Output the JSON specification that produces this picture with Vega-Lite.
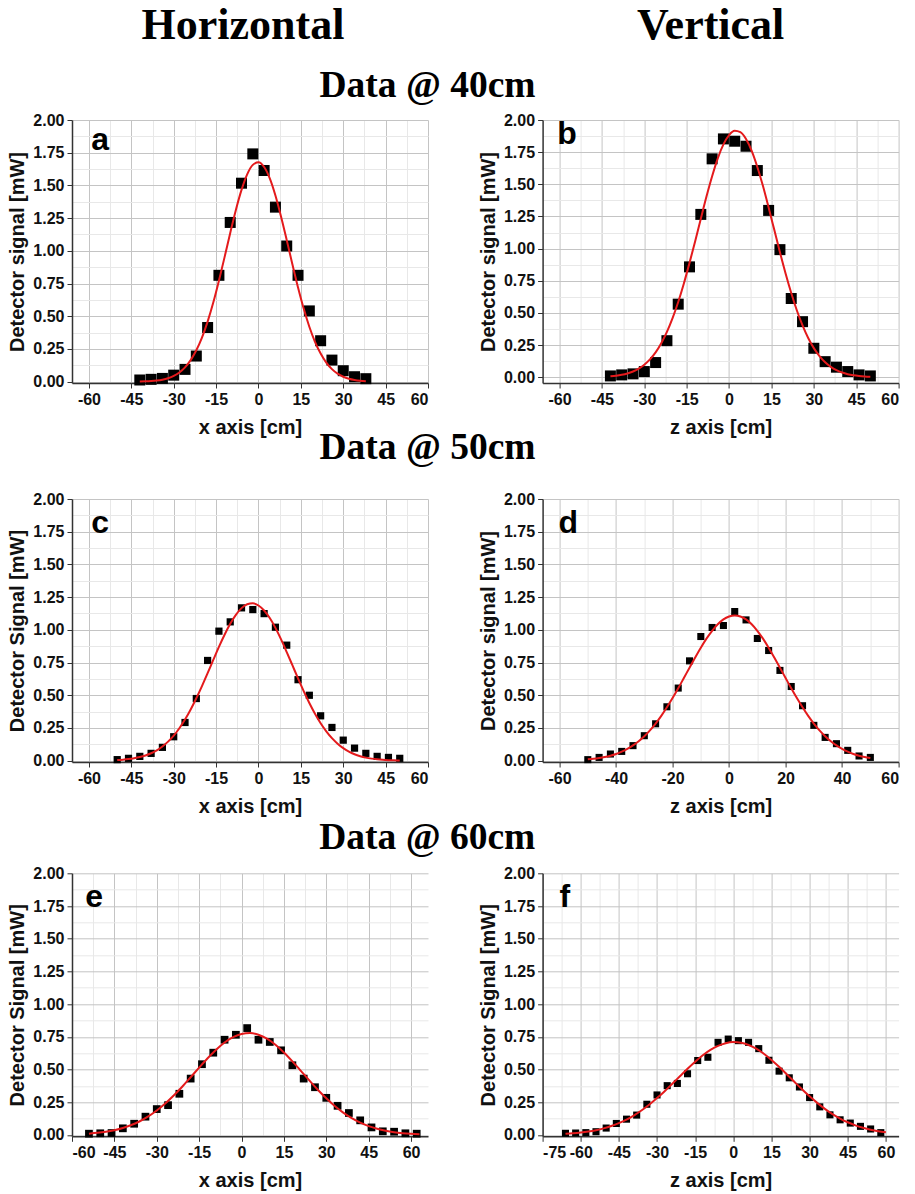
{
"$schema":"https://vega.github.io/schema/vega-lite/v6.json",
"background":"white",
"padding":{"left":7,"top":4,"right":5,"bottom":0},
"config":{
 "view":{"stroke":null},
 "axis":{"labelFont":"Liberation Sans","labelFontWeight":"bold","labelFontSize":16,"labelColor":"#111","titleFont":"Liberation Sans","titleFontWeight":"bold","titleFontSize":20,"titleColor":"#111","domainColor":"#333","domainWidth":1.5,"tickColor":"#333","tickSize":5,"gridColor":"#c4c4c4","gridWidth":1,"labelPadding":3,"titlePadding":5},
 "axisBottom":{"titlePadding":10},
 "title":{"font":"Liberation Serif","fontWeight":"bold","color":"#000","anchor":"middle"}
},
"datasets":{
 "pa":[{"x":-42,"y":0.013},{"x":-38,"y":0.018},{"x":-34,"y":0.025},{"x":-30,"y":0.05},{"x":-26,"y":0.094},{"x":-22,"y":0.196},{"x":-18,"y":0.414},{"x":-14,"y":0.813},{"x":-10,"y":1.217},{"x":-6,"y":1.517},{"x":-2,"y":1.741},{"x":2,"y":1.614},{"x":6,"y":1.334},{"x":10,"y":1.037},{"x":14,"y":0.813},{"x":18,"y":0.541},{"x":22,"y":0.313},{"x":26,"y":0.165},{"x":30,"y":0.084},{"x":34,"y":0.038},{"x":38,"y":0.023}],
 "fa":[{"x":-42,"y":0.0013},{"x":-40,"y":0.0025},{"x":-38,"y":0.0047},{"x":-36,"y":0.0086},{"x":-34,"y":0.0154},{"x":-32,"y":0.0264},{"x":-30,"y":0.0438},{"x":-28,"y":0.0704},{"x":-26,"y":0.1095},{"x":-24,"y":0.165},{"x":-22,"y":0.24},{"x":-20,"y":0.337},{"x":-18,"y":0.459},{"x":-16,"y":0.605},{"x":-14,"y":0.772},{"x":-12,"y":0.952},{"x":-10,"y":1.137},{"x":-8,"y":1.313},{"x":-6,"y":1.466},{"x":-4,"y":1.585},{"x":-2,"y":1.657},{"x":0,"y":1.677},{"x":2,"y":1.641},{"x":4,"y":1.554},{"x":6,"y":1.423},{"x":8,"y":1.261},{"x":10,"y":1.082},{"x":12,"y":0.898},{"x":14,"y":0.72},{"x":16,"y":0.559},{"x":18,"y":0.42},{"x":20,"y":0.305},{"x":22,"y":0.215},{"x":24,"y":0.146},{"x":26,"y":0.0963},{"x":28,"y":0.0612},{"x":30,"y":0.0377},{"x":32,"y":0.0225},{"x":34,"y":0.013},{"x":36,"y":0.0072},{"x":38,"y":0.0039}],
 "pb":[{"x":-42,"y":0.01},{"x":-38,"y":0.018},{"x":-34,"y":0.026},{"x":-30,"y":0.044},{"x":-26,"y":0.114},{"x":-22,"y":0.284},{"x":-18,"y":0.568},{"x":-14,"y":0.858},{"x":-10,"y":1.266},{"x":-6,"y":1.698},{"x":-2,"y":1.853},{"x":2,"y":1.835},{"x":6,"y":1.796},{"x":10,"y":1.607},{"x":14,"y":1.297},{"x":18,"y":0.992},{"x":22,"y":0.612},{"x":26,"y":0.432},{"x":30,"y":0.225},{"x":34,"y":0.121},{"x":38,"y":0.078},{"x":42,"y":0.044},{"x":46,"y":0.018},{"x":50,"y":0.01}],
 "fb":[{"x":-42,"y":0.0072},{"x":-40,"y":0.0117},{"x":-38,"y":0.0187},{"x":-36,"y":0.0291},{"x":-34,"y":0.0446},{"x":-32,"y":0.0665},{"x":-30,"y":0.0972},{"x":-28,"y":0.1386},{"x":-26,"y":0.193},{"x":-24,"y":0.264},{"x":-22,"y":0.352},{"x":-20,"y":0.459},{"x":-18,"y":0.585},{"x":-16,"y":0.729},{"x":-14,"y":0.889},{"x":-12,"y":1.058},{"x":-10,"y":1.233},{"x":-8,"y":1.405},{"x":-6,"y":1.563},{"x":-4,"y":1.702},{"x":-2,"y":1.81},{"x":0,"y":1.883},{"x":2,"y":1.916},{"x":4,"y":1.905},{"x":6,"y":1.852},{"x":8,"y":1.76},{"x":10,"y":1.635},{"x":12,"y":1.486},{"x":14,"y":1.319},{"x":16,"y":1.146},{"x":18,"y":0.972},{"x":20,"y":0.807},{"x":22,"y":0.655},{"x":24,"y":0.519},{"x":26,"y":0.403},{"x":28,"y":0.305},{"x":30,"y":0.226},{"x":32,"y":0.164},{"x":34,"y":0.116},{"x":36,"y":0.0805},{"x":38,"y":0.0545},{"x":40,"y":0.0362},{"x":42,"y":0.0234},{"x":44,"y":0.0148},{"x":46,"y":0.0092},{"x":48,"y":0.0055},{"x":50,"y":0.0033}],
 "pc":[{"x":-50,"y":0.008},{"x":-46,"y":0.018},{"x":-42,"y":0.033},{"x":-38,"y":0.056},{"x":-34,"y":0.102},{"x":-30,"y":0.183},{"x":-26,"y":0.292},{"x":-22,"y":0.475},{"x":-18,"y":0.766},{"x":-14,"y":0.99},{"x":-10,"y":1.061},{"x":-6,"y":1.168},{"x":-2,"y":1.155},{"x":2,"y":1.124},{"x":6,"y":1.02},{"x":10,"y":0.883},{"x":14,"y":0.619},{"x":18,"y":0.5},{"x":22,"y":0.343},{"x":26,"y":0.254},{"x":30,"y":0.157},{"x":34,"y":0.096},{"x":38,"y":0.056},{"x":42,"y":0.033},{"x":46,"y":0.025},{"x":50,"y":0.018}],
 "fc":[{"x":-50,"y":0.0051},{"x":-48,"y":0.008},{"x":-46,"y":0.0123},{"x":-44,"y":0.0186},{"x":-42,"y":0.0275},{"x":-40,"y":0.0399},{"x":-38,"y":0.0568},{"x":-36,"y":0.0793},{"x":-34,"y":0.1085},{"x":-32,"y":0.1457},{"x":-30,"y":0.1918},{"x":-28,"y":0.248},{"x":-26,"y":0.314},{"x":-24,"y":0.391},{"x":-22,"y":0.477},{"x":-20,"y":0.57},{"x":-18,"y":0.669},{"x":-16,"y":0.77},{"x":-14,"y":0.87},{"x":-12,"y":0.963},{"x":-10,"y":1.047},{"x":-8,"y":1.115},{"x":-6,"y":1.166},{"x":-4,"y":1.196},{"x":-2,"y":1.203},{"x":0,"y":1.186},{"x":2,"y":1.148},{"x":4,"y":1.09},{"x":6,"y":1.015},{"x":8,"y":0.927},{"x":10,"y":0.83},{"x":12,"y":0.73},{"x":14,"y":0.629},{"x":16,"y":0.532},{"x":18,"y":0.441},{"x":20,"y":0.359},{"x":22,"y":0.286},{"x":24,"y":0.224},{"x":26,"y":0.172},{"x":28,"y":0.13},{"x":30,"y":0.0959},{"x":32,"y":0.0696},{"x":34,"y":0.0494},{"x":36,"y":0.0345},{"x":38,"y":0.0236},{"x":40,"y":0.0158},{"x":42,"y":0.0104},{"x":44,"y":0.0067},{"x":46,"y":0.0043},{"x":48,"y":0.0026},{"x":50,"y":0.0016}],
 "pd":[{"x":-50,"y":0.008},{"x":-46,"y":0.025},{"x":-42,"y":0.051},{"x":-38,"y":0.071},{"x":-34,"y":0.115},{"x":-30,"y":0.191},{"x":-26,"y":0.282},{"x":-22,"y":0.412},{"x":-18,"y":0.555},{"x":-14,"y":0.763},{"x":-10,"y":0.949},{"x":-6,"y":1.018},{"x":-2,"y":1.033},{"x":2,"y":1.14},{"x":6,"y":1.076},{"x":10,"y":0.934},{"x":14,"y":0.842},{"x":18,"y":0.69},{"x":22,"y":0.567},{"x":26,"y":0.42},{"x":30,"y":0.27},{"x":34,"y":0.178},{"x":38,"y":0.13},{"x":42,"y":0.079},{"x":46,"y":0.036},{"x":50,"y":0.025}],
 "fd":[{"x":-50,"y":0.0101},{"x":-48,"y":0.0144},{"x":-46,"y":0.0202},{"x":-44,"y":0.028},{"x":-42,"y":0.0383},{"x":-40,"y":0.0516},{"x":-38,"y":0.0687},{"x":-36,"y":0.0902},{"x":-34,"y":0.1166},{"x":-32,"y":0.1487},{"x":-30,"y":0.187},{"x":-28,"y":0.232},{"x":-26,"y":0.284},{"x":-24,"y":0.3425},{"x":-22,"y":0.408},{"x":-20,"y":0.4785},{"x":-18,"y":0.5535},{"x":-16,"y":0.632},{"x":-14,"y":0.711},{"x":-12,"y":0.789},{"x":-10,"y":0.864},{"x":-8,"y":0.933},{"x":-6,"y":0.993},{"x":-4,"y":1.043},{"x":-2,"y":1.08},{"x":0,"y":1.102},{"x":2,"y":1.11},{"x":4,"y":1.102},{"x":6,"y":1.08},{"x":8,"y":1.043},{"x":10,"y":0.993},{"x":12,"y":0.933},{"x":14,"y":0.864},{"x":16,"y":0.789},{"x":18,"y":0.711},{"x":20,"y":0.632},{"x":22,"y":0.5535},{"x":24,"y":0.4785},{"x":26,"y":0.408},{"x":28,"y":0.3425},{"x":30,"y":0.284},{"x":32,"y":0.232},{"x":34,"y":0.187},{"x":36,"y":0.1487},{"x":38,"y":0.1166},{"x":40,"y":0.0902},{"x":42,"y":0.0687},{"x":44,"y":0.0516},{"x":46,"y":0.0383},{"x":48,"y":0.028},{"x":50,"y":0.0202}],
 "pe":[{"x":-54,"y":0.01},{"x":-50,"y":0.013},{"x":-46,"y":0.015},{"x":-42,"y":0.051},{"x":-38,"y":0.086},{"x":-34,"y":0.14},{"x":-30,"y":0.198},{"x":-26,"y":0.228},{"x":-22,"y":0.315},{"x":-18,"y":0.431},{"x":-14,"y":0.541},{"x":-10,"y":0.629},{"x":-6,"y":0.728},{"x":-2,"y":0.766},{"x":2,"y":0.817},{"x":6,"y":0.728},{"x":10,"y":0.711},{"x":14,"y":0.647},{"x":18,"y":0.533},{"x":22,"y":0.431},{"x":26,"y":0.365},{"x":30,"y":0.284},{"x":34,"y":0.223},{"x":38,"y":0.168},{"x":42,"y":0.112},{"x":46,"y":0.058},{"x":50,"y":0.028},{"x":54,"y":0.025},{"x":58,"y":0.013},{"x":62,"y":0.01}],
 "fe":[{"x":-54,"y":0.0104},{"x":-51,"y":0.0163},{"x":-48,"y":0.0248},{"x":-45,"y":0.0369},{"x":-42,"y":0.0536},{"x":-39,"y":0.076},{"x":-36,"y":0.1051},{"x":-33,"y":0.1418},{"x":-30,"y":0.187},{"x":-27,"y":0.2403},{"x":-24,"y":0.3016},{"x":-21,"y":0.369},{"x":-18,"y":0.4415},{"x":-15,"y":0.515},{"x":-12,"y":0.5864},{"x":-9,"y":0.6516},{"x":-6,"y":0.7066},{"x":-3,"y":0.748},{"x":0,"y":0.7725},{"x":3,"y":0.779},{"x":6,"y":0.766},{"x":9,"y":0.7358},{"x":12,"y":0.6895},{"x":15,"y":0.6308},{"x":18,"y":0.563},{"x":21,"y":0.4905},{"x":24,"y":0.4171},{"x":27,"y":0.3462},{"x":30,"y":0.2804},{"x":33,"y":0.2216},{"x":36,"y":0.171},{"x":39,"y":0.1288},{"x":42,"y":0.0946},{"x":45,"y":0.0678},{"x":48,"y":0.0475},{"x":51,"y":0.0324},{"x":54,"y":0.0216},{"x":57,"y":0.0141},{"x":60,"y":0.0089},{"x":63,"y":0.0055}],
 "pf":[{"x":-66,"y":0.013},{"x":-62,"y":0.015},{"x":-58,"y":0.018},{"x":-54,"y":0.025},{"x":-50,"y":0.053},{"x":-46,"y":0.088},{"x":-42,"y":0.121},{"x":-38,"y":0.152},{"x":-34,"y":0.235},{"x":-30,"y":0.306},{"x":-26,"y":0.377},{"x":-22,"y":0.394},{"x":-18,"y":0.468},{"x":-14,"y":0.569},{"x":-10,"y":0.594},{"x":-6,"y":0.708},{"x":-2,"y":0.733},{"x":2,"y":0.721},{"x":6,"y":0.708},{"x":10,"y":0.66},{"x":14,"y":0.571},{"x":18,"y":0.488},{"x":22,"y":0.437},{"x":26,"y":0.367},{"x":30,"y":0.286},{"x":34,"y":0.215},{"x":38,"y":0.154},{"x":42,"y":0.116},{"x":46,"y":0.091},{"x":50,"y":0.066},{"x":54,"y":0.046},{"x":58,"y":0.018}],
 "ff":[{"x":-66,"y":0.0086},{"x":-63,"y":0.0127},{"x":-60,"y":0.0185},{"x":-57,"y":0.0263},{"x":-54,"y":0.0368},{"x":-51,"y":0.0505},{"x":-48,"y":0.0682},{"x":-45,"y":0.0904},{"x":-42,"y":0.1176},{"x":-39,"y":0.1504},{"x":-36,"y":0.1887},{"x":-33,"y":0.2326},{"x":-30,"y":0.2819},{"x":-27,"y":0.335},{"x":-24,"y":0.3916},{"x":-21,"y":0.4491},{"x":-18,"y":0.5061},{"x":-15,"y":0.56},{"x":-12,"y":0.6088},{"x":-9,"y":0.65},{"x":-6,"y":0.6815},{"x":-3,"y":0.7018},{"x":0,"y":0.7099},{"x":3,"y":0.7052},{"x":6,"y":0.688},{"x":9,"y":0.6594},{"x":12,"y":0.6206},{"x":15,"y":0.5737},{"x":18,"y":0.5209},{"x":21,"y":0.4644},{"x":24,"y":0.4068},{"x":27,"y":0.3499},{"x":30,"y":0.2956},{"x":33,"y":0.2453},{"x":36,"y":0.2},{"x":39,"y":0.16},{"x":42,"y":0.1257},{"x":45,"y":0.0971},{"x":48,"y":0.0736},{"x":51,"y":0.0549},{"x":54,"y":0.0401},{"x":57,"y":0.0288},{"x":60,"y":0.0204}]
},
"spacing":-9,
"vconcat":[
 {"hconcat":[
   {"width":356,"height":27,"data":{"values":[{}]},"mark":{"type":"point","opacity":0},"encoding":{},"title":{"text":"Horizontal","fontSize":44,"dx":-7,"offset":0}},
   {"width":356,"height":27,"data":{"values":[{}]},"mark":{"type":"point","opacity":0},"encoding":{},"title":{"text":"Vertical","fontSize":44,"dx":-10,"offset":0}}
  ],"spacing":114.6,"bounds":"flush"},
 {"title":{"text":"Data @ 40cm","fontSize":37.5,"offset":8,"dx":-26},
  "hconcat":[
   {"width":356,"height":263,"resolve":{"axis":{"x":"independent","y":"independent"}},"layer":[
     {"data":{"name":"pa"},"mark":{"type":"square","color":"#000","opacity":1,"size":121},"encoding":{
       "x":{"field":"x","type":"quantitative","scale":{"domain":[-66,60],"nice":false,"zero":false},"axis":{"orient":"bottom","values":[-60,-45,-30,-15,0,15,30,45,60],"title":"x axis [cm]","labelExpr":"replace(datum.label,'\u2212','-')"}},
       "y":{"field":"y","type":"quantitative","scale":{"domain":[-0.01,2],"nice":false,"zero":false},"axis":{"orient":"left","values":[0,0.25,0.5,0.75,1,1.25,1.5,1.75,2],"format":".2f","title":"Detector signal [mW]"}}}},
     {"data":{"name":"fa"},"mark":{"type":"line","color":"#e41a1c","strokeWidth":2,"interpolate":"monotone"},"encoding":{
       "x":{"field":"x","type":"quantitative","axis":{"orient":"top","values":[-52.5,-37.5,-22.5,-7.5,7.5,22.5,37.5,52.5],"labels":false,"ticks":false,"domain":false,"title":null,"grid":true,"gridColor":"#e8e8e8"}},
       "y":{"field":"y","type":"quantitative","axis":{"orient":"right","values":[0.125,0.375,0.625,0.875,1.125,1.375,1.625,1.875],"labels":false,"ticks":false,"domain":false,"title":null,"grid":true,"gridColor":"#e8e8e8"}}}},
     {"data":{"values":[{}]},"mark":{"type":"text","text":"a","font":"Liberation Sans","fontWeight":"bold","fontSize":32,"align":"left","baseline":"alphabetic"},"encoding":{"x":{"datum":-59.2,"type":"quantitative","axis":null},"y":{"datum":1.77,"type":"quantitative","axis":null}}}
   ]},
   {"width":356,"height":263,"resolve":{"axis":{"x":"independent","y":"independent"}},"layer":[
     {"data":{"name":"pb"},"mark":{"type":"square","color":"#000","opacity":1,"size":121},"encoding":{
       "x":{"field":"x","type":"quantitative","scale":{"domain":[-66,60],"nice":false,"zero":false},"axis":{"orient":"bottom","values":[-60,-45,-30,-15,0,15,30,45,60],"title":"z axis [cm]","labelExpr":"replace(datum.label,'\u2212','-')"}},
       "y":{"field":"y","type":"quantitative","scale":{"domain":[-0.045,2],"nice":false,"zero":false},"axis":{"orient":"left","values":[0,0.25,0.5,0.75,1,1.25,1.5,1.75,2],"format":".2f","title":"Detector signal [mW]"}}}},
     {"data":{"name":"fb"},"mark":{"type":"line","color":"#e41a1c","strokeWidth":2,"interpolate":"monotone"},"encoding":{
       "x":{"field":"x","type":"quantitative","axis":{"orient":"top","values":[-52.5,-37.5,-22.5,-7.5,7.5,22.5,37.5,52.5],"labels":false,"ticks":false,"domain":false,"title":null,"grid":true,"gridColor":"#e8e8e8"}},
       "y":{"field":"y","type":"quantitative","axis":{"orient":"right","values":[0.125,0.375,0.625,0.875,1.125,1.375,1.625,1.875],"labels":false,"ticks":false,"domain":false,"title":null,"grid":true,"gridColor":"#e8e8e8"}}}},
     {"data":{"values":[{}]},"mark":{"type":"text","text":"b","font":"Liberation Sans","fontWeight":"bold","fontSize":32,"align":"left","baseline":"alphabetic"},"encoding":{"x":{"datum":-60.8,"type":"quantitative","axis":null},"y":{"datum":1.81,"type":"quantitative","axis":null}}}
   ]}
  ],"spacing":114.6,"bounds":"flush"},
 {"spacing":2.3,"vconcat":[
  {"title":{"text":"Data @ 50cm","fontSize":37.5,"offset":25,"dx":-26},
   "hconcat":[
   {"width":356,"height":263,"resolve":{"axis":{"x":"independent","y":"independent"}},"layer":[
     {"data":{"name":"pc"},"mark":{"type":"square","color":"#000","opacity":1,"size":52},"encoding":{
       "x":{"field":"x","type":"quantitative","scale":{"domain":[-66,60],"nice":false,"zero":false},"axis":{"orient":"bottom","values":[-60,-45,-30,-15,0,15,30,45,60],"title":"x axis [cm]","labelExpr":"replace(datum.label,'\u2212','-')"}},
       "y":{"field":"y","type":"quantitative","scale":{"domain":[-0.01,2],"nice":false,"zero":false},"axis":{"orient":"left","values":[0,0.25,0.5,0.75,1,1.25,1.5,1.75,2],"format":".2f","title":"Detector Signal [mW]"}}}},
     {"data":{"name":"fc"},"mark":{"type":"line","color":"#e41a1c","strokeWidth":2,"interpolate":"monotone"},"encoding":{
       "x":{"field":"x","type":"quantitative","axis":{"orient":"top","values":[-52.5,-37.5,-22.5,-7.5,7.5,22.5,37.5,52.5],"labels":false,"ticks":false,"domain":false,"title":null,"grid":true,"gridColor":"#e8e8e8"}},
       "y":{"field":"y","type":"quantitative","axis":{"orient":"right","values":[0.125,0.375,0.625,0.875,1.125,1.375,1.625,1.875],"labels":false,"ticks":false,"domain":false,"title":null,"grid":true,"gridColor":"#e8e8e8"}}}},
     {"data":{"values":[{}]},"mark":{"type":"text","text":"c","font":"Liberation Sans","fontWeight":"bold","fontSize":32,"align":"left","baseline":"alphabetic"},"encoding":{"x":{"datum":-59.2,"type":"quantitative","axis":null},"y":{"datum":1.74,"type":"quantitative","axis":null}}}
   ]},
   {"width":356,"height":263,"resolve":{"axis":{"x":"independent","y":"independent"}},"layer":[
     {"data":{"name":"pd"},"mark":{"type":"square","color":"#000","opacity":1,"size":50},"encoding":{
       "x":{"field":"x","type":"quantitative","scale":{"domain":[-66,60],"nice":false,"zero":false},"axis":{"orient":"bottom","values":[-60,-40,-20,0,20,40,60],"title":"z axis [cm]","labelExpr":"replace(datum.label,'\u2212','-')"}},
       "y":{"field":"y","type":"quantitative","scale":{"domain":[-0.01,2],"nice":false,"zero":false},"axis":{"orient":"left","values":[0,0.25,0.5,0.75,1,1.25,1.5,1.75,2],"format":".2f","title":"Detector signal [mW]"}}}},
     {"data":{"name":"fd"},"mark":{"type":"line","color":"#e41a1c","strokeWidth":2,"interpolate":"monotone"},"encoding":{
       "x":{"field":"x","type":"quantitative","axis":{"orient":"top","values":[-50,-30,-10,10,30,50],"labels":false,"ticks":false,"domain":false,"title":null,"grid":true,"gridColor":"#e8e8e8"}},
       "y":{"field":"y","type":"quantitative","axis":{"orient":"right","values":[0.125,0.375,0.625,0.875,1.125,1.375,1.625,1.875],"labels":false,"ticks":false,"domain":false,"title":null,"grid":true,"gridColor":"#e8e8e8"}}}},
     {"data":{"values":[{}]},"mark":{"type":"text","text":"d","font":"Liberation Sans","fontWeight":"bold","fontSize":32,"align":"left","baseline":"alphabetic"},"encoding":{"x":{"datum":-60.4,"type":"quantitative","axis":null},"y":{"datum":1.74,"type":"quantitative","axis":null}}}
   ]}
  ],"spacing":114.6,"bounds":"flush"},
  {"title":{"text":"Data @ 60cm","fontSize":37.5,"offset":9,"dx":-26},
   "hconcat":[
   {"width":356,"height":263,"resolve":{"axis":{"x":"independent","y":"independent"}},"layer":[
     {"data":{"name":"pe"},"mark":{"type":"square","color":"#000","opacity":1,"size":60},"encoding":{
       "x":{"field":"x","type":"quantitative","scale":{"domain":[-60,66],"nice":false,"zero":false},"axis":{"orient":"bottom","values":[-60,-45,-30,-15,0,15,30,45,60],"title":"x axis [cm]","labelExpr":"replace(datum.label,'\u2212','-')"}},
       "y":{"field":"y","type":"quantitative","scale":{"domain":[-0.01,2],"nice":false,"zero":false},"axis":{"orient":"left","values":[0,0.25,0.5,0.75,1,1.25,1.5,1.75,2],"format":".2f","title":"Detector Signal [mW]"}}}},
     {"data":{"name":"fe"},"mark":{"type":"line","color":"#e41a1c","strokeWidth":2,"interpolate":"monotone"},"encoding":{
       "x":{"field":"x","type":"quantitative","axis":{"orient":"top","values":[-52.5,-37.5,-22.5,-7.5,7.5,22.5,37.5,52.5],"labels":false,"ticks":false,"domain":false,"title":null,"grid":true,"gridColor":"#e8e8e8"}},
       "y":{"field":"y","type":"quantitative","axis":{"orient":"right","values":[0.125,0.375,0.625,0.875,1.125,1.375,1.625,1.875],"labels":false,"ticks":false,"domain":false,"title":null,"grid":true,"gridColor":"#e8e8e8"}}}},
     {"data":{"values":[{}]},"mark":{"type":"text","text":"e","font":"Liberation Sans","fontWeight":"bold","fontSize":32,"align":"left","baseline":"alphabetic"},"encoding":{"x":{"datum":-55.3,"type":"quantitative","axis":null},"y":{"datum":1.74,"type":"quantitative","axis":null}}}
   ]},
   {"width":356,"height":263,"resolve":{"axis":{"x":"independent","y":"independent"}},"layer":[
     {"data":{"name":"pf"},"mark":{"type":"square","color":"#000","opacity":1,"size":50},"encoding":{
       "x":{"field":"x","type":"quantitative","scale":{"domain":[-75,65],"nice":false,"zero":false},"axis":{"orient":"bottom","values":[-75,-60,-45,-30,-15,0,15,30,45,60],"title":"z axis [cm]","labelExpr":"replace(datum.label,'\u2212','-')"}},
       "y":{"field":"y","type":"quantitative","scale":{"domain":[-0.01,2],"nice":false,"zero":false},"axis":{"orient":"left","values":[0,0.25,0.5,0.75,1,1.25,1.5,1.75,2],"format":".2f","title":"Detector Signal [mW]"}}}},
     {"data":{"name":"ff"},"mark":{"type":"line","color":"#e41a1c","strokeWidth":2,"interpolate":"monotone"},"encoding":{
       "x":{"field":"x","type":"quantitative","axis":{"orient":"top","values":[-67.5,-52.5,-37.5,-22.5,-7.5,7.5,22.5,37.5,52.5],"labels":false,"ticks":false,"domain":false,"title":null,"grid":true,"gridColor":"#e8e8e8"}},
       "y":{"field":"y","type":"quantitative","axis":{"orient":"right","values":[0.125,0.375,0.625,0.875,1.125,1.375,1.625,1.875],"labels":false,"ticks":false,"domain":false,"title":null,"grid":true,"gridColor":"#e8e8e8"}}}},
     {"data":{"values":[{}]},"mark":{"type":"text","text":"f","font":"Liberation Sans","fontWeight":"bold","fontSize":32,"align":"left","baseline":"alphabetic"},"encoding":{"x":{"datum":-68.4,"type":"quantitative","axis":null},"y":{"datum":1.745,"type":"quantitative","axis":null}}}
   ]}
  ],"spacing":114.6,"bounds":"flush"}
 ]}
]
}
